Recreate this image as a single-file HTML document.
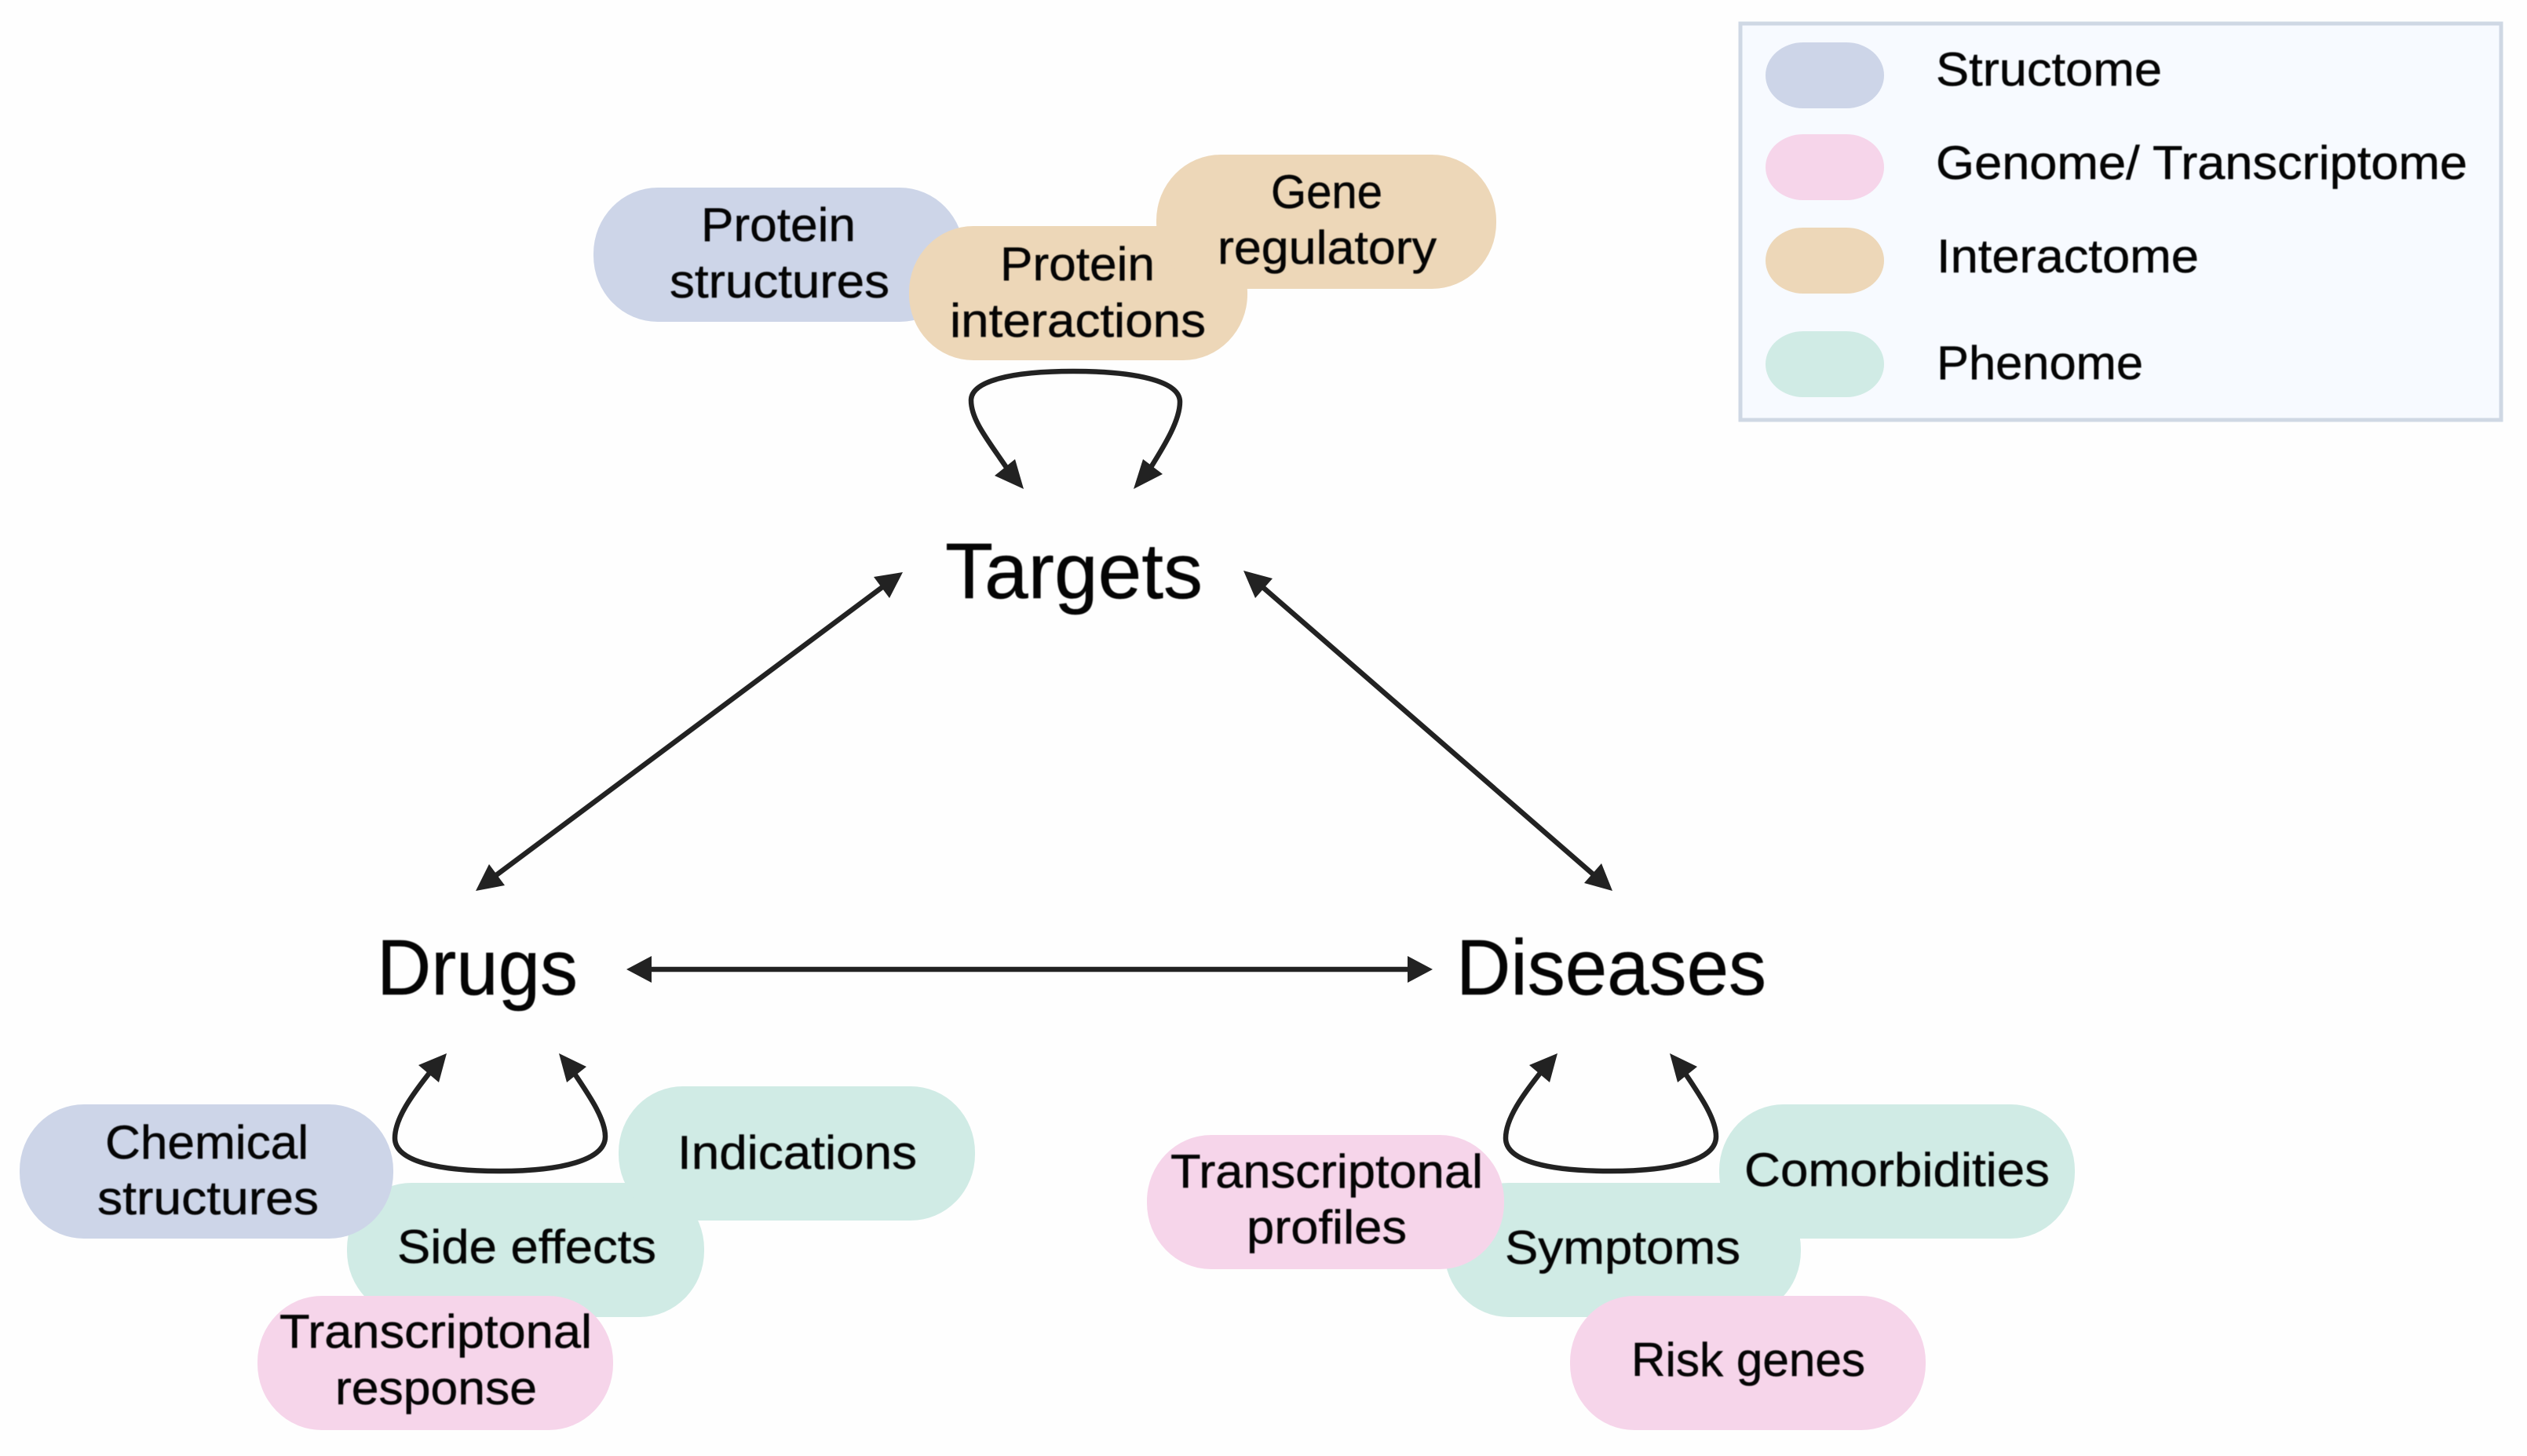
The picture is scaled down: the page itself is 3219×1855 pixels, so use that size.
<!DOCTYPE html>
<html><head><meta charset="utf-8"><title>Targets, Drugs, Diseases</title>
<style>
html,body{margin:0;padding:0;background:#fefefe}
svg{display:block}
text{font-family:"Liberation Sans",sans-serif;fill:#050505;stroke:#050505;stroke-width:.5;filter:blur(.6px)}
.s{font-size:60px}.b{font-size:100px}
.l{fill:none;stroke:#222;stroke-width:6.5}
.a{fill:#222}
.bl{fill:#cdd5e8}.pk{fill:#f6d5ea}.tn{fill:#edd7b8}.tl{fill:#d0ebe5}
</style></head><body>
<svg xmlns="http://www.w3.org/2000/svg" width="3219" height="1855" viewBox="0 0 3219 1855">
<rect width="3219" height="1855" fill="#fefefe"/>

<!-- legend -->
<rect x="2217" y="30" width="969" height="505" fill="#f7faff" stroke="#cfd8e4" stroke-width="5"/>
<rect class="bl" x="2249" y="54" width="151" height="84" rx="48" ry="42"/>
<rect class="pk" x="2249" y="171" width="151" height="84" rx="48" ry="42"/>
<rect class="tn" x="2249" y="290" width="151" height="84" rx="48" ry="42"/>
<rect class="tl" x="2249" y="422" width="151" height="84" rx="48" ry="42"/>
<text class="s" x="2466" y="109" textLength="288" lengthAdjust="spacingAndGlyphs">Structome</text>
<text class="s" x="2466" y="228" textLength="677" lengthAdjust="spacingAndGlyphs">Genome/ Transcriptome</text>
<text class="s" x="2467" y="347" textLength="334" lengthAdjust="spacingAndGlyphs">Interactome</text>
<text class="s" x="2467" y="483" textLength="263" lengthAdjust="spacingAndGlyphs">Phenome</text>

<!-- targets pills -->
<rect class="bl" x="756" y="239" width="472" height="171" rx="82" ry="84"/>
<rect class="tn" x="1158" y="288" width="431" height="171" rx="82" ry="84"/>
<rect class="tn" x="1473" y="197" width="433" height="171" rx="82" ry="84"/>
<text class="s" x="893" y="307" textLength="197" lengthAdjust="spacingAndGlyphs">Protein</text>
<text class="s" x="853" y="379" textLength="280" lengthAdjust="spacingAndGlyphs">structures</text>
<text class="s" x="1274" y="357" textLength="197" lengthAdjust="spacingAndGlyphs">Protein</text>
<text class="s" x="1210" y="429" textLength="326" lengthAdjust="spacingAndGlyphs">interactions</text>
<text class="s" x="1619" y="265" textLength="142" lengthAdjust="spacingAndGlyphs">Gene</text>
<text class="s" x="1551" y="336" textLength="279" lengthAdjust="spacingAndGlyphs">regulatory</text>

<!-- main labels -->
<text class="b" x="1204" y="762" textLength="328" lengthAdjust="spacingAndGlyphs">Targets</text>
<text class="b" x="480" y="1267" textLength="256" lengthAdjust="spacingAndGlyphs">Drugs</text>
<text class="b" x="1855" y="1267" textLength="395" lengthAdjust="spacingAndGlyphs">Diseases</text>

<!-- drugs pills -->
<rect class="tl" x="442" y="1507" width="455" height="171" rx="82" ry="84"/>
<rect class="bl" x="25" y="1407" width="476" height="171" rx="82" ry="84"/>
<rect class="tl" x="788" y="1384" width="454" height="171" rx="82" ry="84"/>
<rect class="pk" x="328" y="1651" width="453" height="171" rx="82" ry="84"/>
<text class="s" x="134" y="1476" textLength="259" lengthAdjust="spacingAndGlyphs">Chemical</text>
<text class="s" x="124" y="1547" textLength="282" lengthAdjust="spacingAndGlyphs">structures</text>
<text class="s" x="863" y="1489" textLength="305" lengthAdjust="spacingAndGlyphs">Indications</text>
<text class="s" x="506" y="1609" textLength="330" lengthAdjust="spacingAndGlyphs">Side effects</text>
<text class="s" x="356" y="1717" textLength="398" lengthAdjust="spacingAndGlyphs">Transcriptonal</text>
<text class="s" x="427" y="1789" textLength="257" lengthAdjust="spacingAndGlyphs">response</text>

<!-- diseases pills -->
<rect class="tl" x="1840" y="1507" width="454" height="171" rx="82" ry="84"/>
<rect class="pk" x="1461" y="1446" width="455" height="171" rx="82" ry="84"/>
<rect class="tl" x="2190" y="1407" width="453" height="171" rx="82" ry="84"/>
<rect class="pk" x="2000" y="1651" width="453" height="171" rx="82" ry="84"/>
<text class="s" x="1491" y="1513" textLength="398" lengthAdjust="spacingAndGlyphs">Transcriptonal</text>
<text class="s" x="1588" y="1584" textLength="204" lengthAdjust="spacingAndGlyphs">profiles</text>
<text class="s" x="2222" y="1511" textLength="389" lengthAdjust="spacingAndGlyphs">Comorbidities</text>
<text class="s" x="1917" y="1610" textLength="300" lengthAdjust="spacingAndGlyphs">Symptoms</text>
<text class="s" x="2078" y="1753" textLength="298" lengthAdjust="spacingAndGlyphs">Risk genes</text>

<!-- loops -->
<path class="l" d="M1283 597C1258 560 1237 535 1237 510C1237 485 1290 473 1367 473C1445 473 1503 485 1503 512C1503 535 1485 565 1465 597"/>
<path class="a" d="M1304 623L1267 606L1293 585Z"/>
<path class="a" d="M1444 623L1481 604L1456 585Z"/>

<path class="l" d="M547 1367C525 1395 503 1425 503 1450C503 1480 560 1492 637 1492C715 1492 771 1478 771 1448C771 1425 750 1395 732 1368"/>
<path class="a" d="M569 1342L533 1357L559 1379Z"/>
<path class="a" d="M712 1342L747 1359L722 1379Z"/>

<g transform="translate(1415 0)">
<path class="l" d="M547 1367C525 1395 503 1425 503 1450C503 1480 560 1492 637 1492C715 1492 771 1478 771 1448C771 1425 750 1395 732 1368"/>
<path class="a" d="M569 1342L533 1357L559 1379Z"/>
<path class="a" d="M712 1342L747 1359L722 1379Z"/>
</g>

<!-- straight double arrows -->
<line class="l" x1="1128" y1="745" x2="628" y2="1118"/>
<path class="a" d="M1150 729L1113 735L1133 762Z"/>
<path class="a" d="M606 1135L643 1128L623 1101Z"/>
<line class="l" x1="1605" y1="745" x2="2033" y2="1117"/>
<path class="a" d="M1584 727L1621 737L1599 762Z"/>
<path class="a" d="M2054 1135L2040 1100L2018 1125Z"/>
<line class="l" x1="820" y1="1235" x2="1805" y2="1235"/>
<path class="a" d="M798 1235L830 1218L830 1252Z"/>
<path class="a" d="M1825 1235L1793 1218L1793 1252Z"/>
</svg>
</body></html>
